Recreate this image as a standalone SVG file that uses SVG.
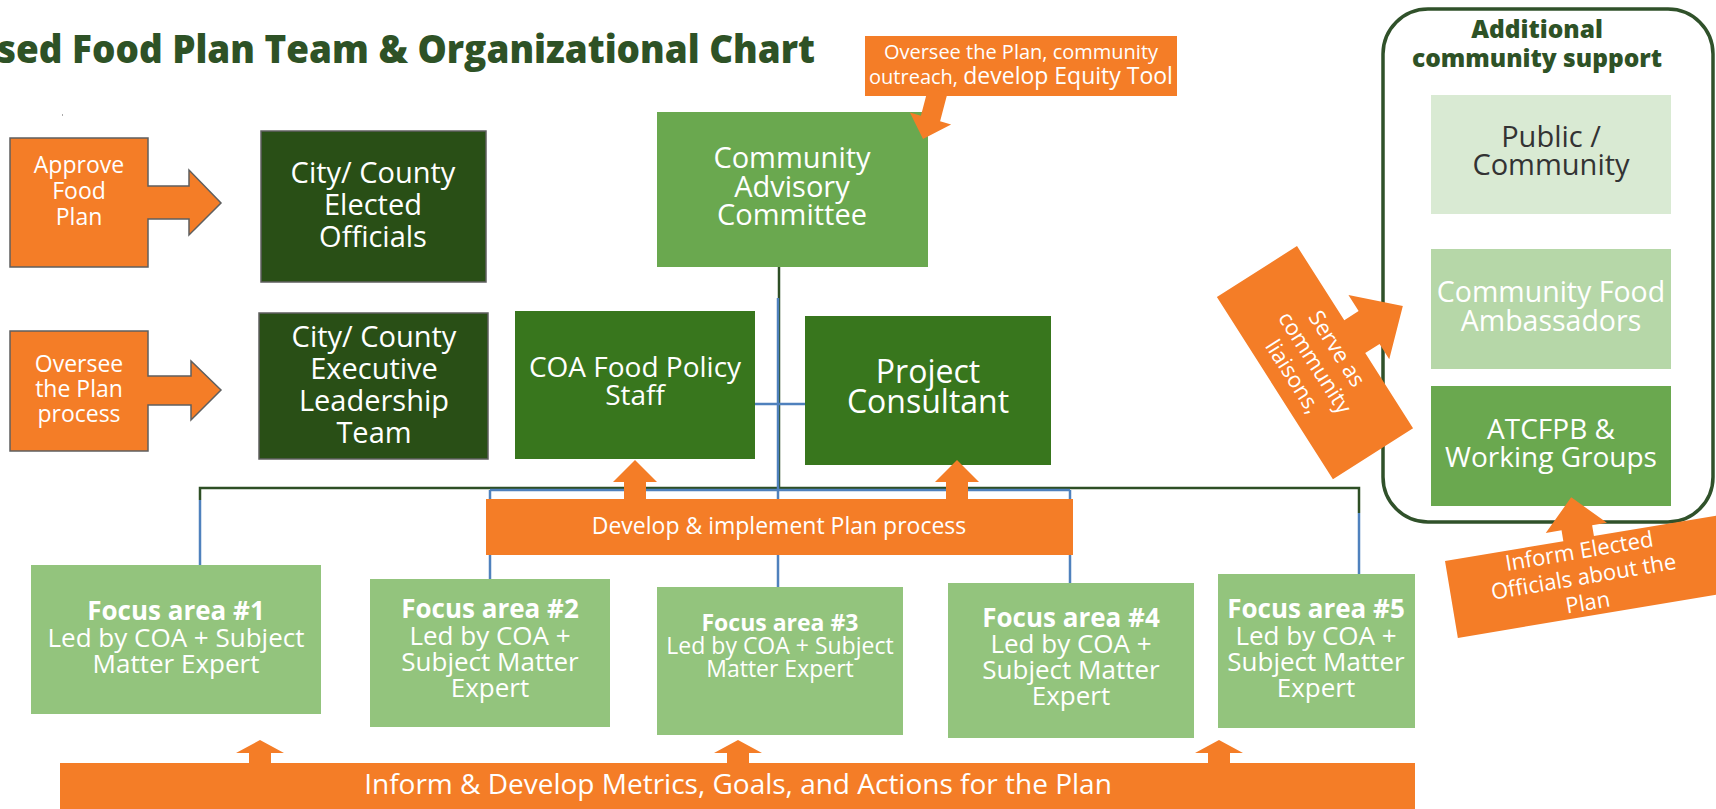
<svg xmlns="http://www.w3.org/2000/svg" width="1716" height="809" viewBox="0 0 1716 809">
<style>
  text { font-family: "Open Sans", "Liberation Sans", sans-serif; }
  .w { fill: #ffffff; text-anchor: middle; }
  .d { fill: #333333; text-anchor: middle; }
  .b { font-weight: 700; }
  .or { fill: #f47d27; }
  .dk { fill: #294f16; stroke: #5f5f5f; stroke-width: 1.5; }
  .md { fill: #38761d; }
  .lg { fill: #6aa84f; }
  .fa { fill: #93c47d; }
  .cd { fill: none; stroke: #2e4f25; stroke-width: 2.5; }
  .cb { fill: none; stroke: #4f81bd; stroke-width: 2.5; }
</style>

<!-- title -->
<text x="-3" y="63" font-size="38" font-weight="800" fill="#2e5226" textLength="818" lengthAdjust="spacingAndGlyphs">sed Food Plan Team &amp; Organizational Chart</text>
<rect x="62" y="114" width="1" height="2" fill="#aaaaaa"/>

<!-- connectors -->
<g id="connectors">
  <path class="cd" d="M779,267 V489"/>
  <path class="cd" d="M200,500 V488 H1359 V513"/>
  <path class="cb" d="M778,298 V587"/>
  <path class="cb" d="M755,404 H805"/>
  <path class="cb" d="M490,490 H1070"/>
  <path class="cb" d="M200,500 V565"/>
  <path class="cb" d="M490,490 V579"/>
  <path class="cb" d="M1070,490 V583"/>
  <path class="cb" d="M1359,513 V574"/>
</g>

<!-- left callouts -->
<g id="approve">
  <path d="M10,138 H148 V186 H189 V170 L221,203 L189,235 V219 H148 V267 H10 Z" fill="#f47d27" stroke="#5f5f5f" stroke-width="1.5"/>
  <text class="w" font-size="23"><tspan x="79" y="173">Approve</tspan><tspan x="79" y="199">Food</tspan><tspan x="79" y="225">Plan</tspan></text>
</g>
<g id="oversee">
  <path d="M10,331 H148 V376 H191 V361 L221,390 L191,420 V405 H148 V451 H10 Z" fill="#f47d27" stroke="#5f5f5f" stroke-width="1.5"/>
  <text class="w" font-size="23"><tspan x="79" y="372">Oversee</tspan><tspan x="79" y="397">the Plan</tspan><tspan x="79" y="422">process</tspan></text>
</g>

<!-- dark boxes -->
<g id="elected">
  <rect class="dk" x="261" y="131" width="225" height="151"/>
  <text class="w" font-size="29"><tspan x="373" y="183">City/ County</tspan><tspan x="373" y="215">Elected</tspan><tspan x="373" y="247">Officials</tspan></text>
</g>
<g id="executive">
  <rect class="dk" x="259" y="313" width="229" height="146"/>
  <text class="w" font-size="29"><tspan x="374" y="347">City/ County</tspan><tspan x="374" y="379">Executive</tspan><tspan x="374" y="411">Leadership</tspan><tspan x="374" y="443">Team</tspan></text>
</g>

<!-- CAC -->
<g id="cac">
  <rect class="lg" x="657" y="112" width="271" height="155"/>
  <text class="w" font-size="29"><tspan x="792" y="168">Community</tspan><tspan x="792" y="197">Advisory</tspan><tspan x="792" y="225">Committee</tspan></text>
</g>
<g id="cac-callout">
  <rect class="or" x="865" y="36" width="312" height="60"/>
  <text class="w" font-size="20"><tspan x="1021" y="59">Oversee the Plan,  community</tspan></text>
  <text class="w" x="1021" y="84"><tspan font-size="20">outreach, </tspan><tspan font-size="23">develop Equity Tool</tspan></text>
  <path class="or" d="M928.4,87.2 L920.9,115.7 L909.9,112.4 L923,139 L951.1,124.6 L940.1,121.3 L947.6,92.8 Z"/>
</g>

<g id="coa-staff">
  <rect class="md" x="515" y="311" width="240" height="148"/>
  <text class="w" font-size="28"><tspan x="635" y="377">COA Food Policy</tspan><tspan x="635" y="405">Staff</tspan></text>
</g>
<g id="consultant">
  <rect class="md" x="805" y="316" width="246" height="149"/>
  <text class="w" font-size="32"><tspan x="928" y="383">Project</tspan><tspan x="928" y="413">Consultant</tspan></text>
</g>

<!-- develop banner -->
<g id="develop">
  <rect class="or" x="486" y="499" width="587" height="56"/>
  <path class="or" d="M624,501 V482 H613 L635,460 L657,482 H646 V501 Z"/>
  <path class="or" d="M946,501 V482 H935 L957,460 L979,482 H968 V501 Z"/>
  <text class="w" x="779" y="534" font-size="23">Develop &amp; implement Plan process</text>
</g>

<!-- focus areas -->
<g id="focus1">
  <rect class="fa" x="31" y="565" width="290" height="149"/>
  <text class="w" font-size="26"><tspan class="b" x="176" y="620">Focus area #1</tspan><tspan x="176" y="647">Led by COA + Subject</tspan><tspan x="176" y="673">Matter Expert</tspan></text>
</g>
<g id="focus2">
  <rect class="fa" x="370" y="579" width="240" height="148"/>
  <text class="w" font-size="26"><tspan class="b" x="490" y="618">Focus area #2</tspan><tspan x="490" y="645">Led by COA +</tspan><tspan x="490" y="671">Subject Matter</tspan><tspan x="490" y="697">Expert</tspan></text>
</g>
<g id="focus3">
  <rect class="fa" x="657" y="587" width="246" height="148"/>
  <text class="w" font-size="23"><tspan class="b" x="780" y="631">Focus area #3</tspan><tspan x="780" y="654">Led by COA + Subject</tspan><tspan x="780" y="677">Matter Expert</tspan></text>
</g>
<g id="focus4">
  <rect class="fa" x="948" y="583" width="246" height="155"/>
  <text class="w" font-size="26"><tspan class="b" x="1071" y="627">Focus area #4</tspan><tspan x="1071" y="653">Led by COA +</tspan><tspan x="1071" y="679">Subject Matter</tspan><tspan x="1071" y="705">Expert</tspan></text>
</g>
<g id="focus5">
  <rect class="fa" x="1218" y="574" width="197" height="154"/>
  <text class="w" font-size="26"><tspan class="b" x="1316" y="618">Focus area #5</tspan><tspan x="1316" y="645">Led by COA +</tspan><tspan x="1316" y="671">Subject Matter</tspan><tspan x="1316" y="697">Expert</tspan></text>
</g>

<!-- bottom banner -->
<g id="inform-banner">
  <rect class="or" x="60" y="763" width="1355" height="46"/>
  <path class="or" d="M249,765 V753 H236 L260,740 L284,753 H271 V765 Z"/>
  <path class="or" d="M727,765 V753 H714 L738,740 L762,753 H749 V765 Z"/>
  <path class="or" d="M1208,765 V753 H1195 L1219,740 L1243,753 H1230 V765 Z"/>
  <text class="w" x="738" y="794" font-size="28">Inform &amp; Develop Metrics, Goals, and Actions for the Plan</text>
</g>

<!-- right panel -->
<g id="support">
  <rect x="1383" y="9" width="330" height="513" rx="45" ry="45" fill="none" stroke="#30512a" stroke-width="3.5"/>
  <text font-size="24.5" font-weight="800" fill="#2e5226" text-anchor="middle"><tspan x="1537" y="38">Additional</tspan><tspan x="1537" y="67">community support</tspan></text>
</g>
<g id="public">
  <rect x="1431" y="95" width="240" height="119" fill="#d9ead3"/>
  <text class="d" font-size="29"><tspan x="1551" y="147">Public /</tspan><tspan x="1551" y="175">Community</tspan></text>
</g>
<g id="ambassadors">
  <rect x="1431" y="249" width="240" height="120" fill="#b6d7a8"/>
  <text class="w" font-size="28.5"><tspan x="1551" y="302">Community Food</tspan><tspan x="1551" y="331">Ambassadors</tspan></text>
</g>
<g id="atcfpb">
  <rect class="lg" x="1431" y="386" width="240" height="120"/>
  <text class="w" font-size="28"><tspan x="1551" y="439">ATCFPB &amp;</tspan><tspan x="1551" y="467">Working Groups</tspan></text>
</g>

<!-- rotated callouts -->
<g id="liaisons" transform="translate(1297,246) rotate(57.5)">
  <path class="or" d="M0,0 H88 V-17 H69 L107.5,-57 L145,-17 H127 V0 H216 V95 H0 Z"/>
  <text class="w" font-size="22"><tspan x="108" y="29">Serve as</tspan><tspan x="108" y="55">community</tspan><tspan x="108" y="81">liaisons,</tspan></text>
</g>
<g id="inform-officials" transform="translate(1445,561) rotate(-9.5)">
  <path class="or" d="M0,0 H120 V-11 H104 L135,-42 L166,-11 H151 V0 H300 V78 H0 Z"/>
  <text class="w" font-size="22"><tspan x="134" y="20">Inform Elected</tspan><tspan x="134" y="46">Officials about the</tspan><tspan x="134" y="72">Plan</tspan></text>
</g>
</svg>
